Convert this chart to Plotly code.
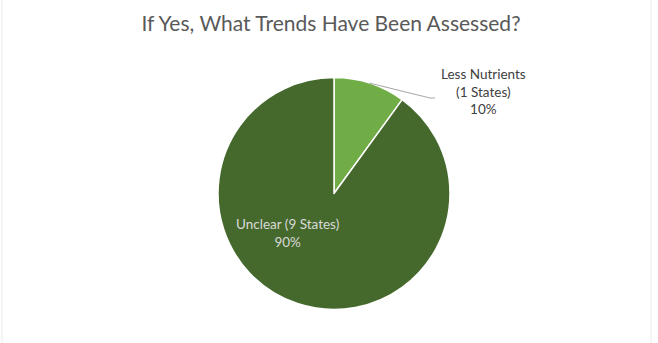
import math
import plotly.graph_objects as go

title = "If Yes, What Trends Have Been Assessed?"
categories = ["Less Nutrients", "Unclear"]
states = [1, 9]
colors = ["#70AD47", "#45692C"]

W, H = 658, 343
cx, cy, r = 334, 193.5, 116  # pixel geometry of pie

fig = go.Figure()
fig.add_trace(go.Pie(
    labels=categories,
    values=states,
    sort=False,
    direction="clockwise",
    rotation=0,
    marker=dict(colors=colors, line=dict(color="white", width=1.5)),
    textinfo="none",
    hoverinfo="label+value+percent",
    showlegend=False,
    domain=dict(x=[(cx - r) / W, (cx + r) / W], y=[(H - cy - r) / H, (H - cy + r) / H]),
))

total = sum(states)
pct = [v / total for v in states]

# label for small slice (outside, with leader line)
mid0 = pct[0] / 2 * 2 * math.pi
ex = cx + r * math.sin(mid0)
ey = cy - r * math.cos(mid0)
lx, ly = 430, 98
fig.add_shape(type="path", xref="paper", yref="paper",
              path=f"M {ex/W} {1-ey/H} L {lx/W} {1-ly/H} L {(lx+5)/W} {1-ly/H}",
              line=dict(color="#A6A6A6", width=1))
fig.add_annotation(
    x=483 / W, y=1 - 92 / H, xref="paper", yref="paper",
    xanchor="center", yanchor="middle",
    text=f"{categories[0]}<br>({states[0]} States)<br>{round(pct[0]*100)}%",
    showarrow=False, align="center",
    font=dict(family="Lato, Carlito, sans-serif", size=13.5, color="#404040"),
)
# label for big slice (inside)
fig.add_annotation(
    x=287 / W, y=1 - 233 / H, xref="paper", yref="paper",
    xanchor="center", yanchor="middle",
    text=f"{categories[1]} ({states[1]} States)<br>{round(pct[1]*100)}%",
    showarrow=False, align="center",
    font=dict(family="Lato, Carlito, sans-serif", size=13.5, color="#D9D9D9"),
)

for xp in (2, 651):
    fig.add_shape(type="line", xref="paper", yref="paper",
                  x0=xp / W, x1=xp / W, y0=0, y1=1,
                  line=dict(color="#EBEBEB", width=1))

fig.update_layout(
    width=W, height=H,
    margin=dict(l=0, r=0, t=0, b=0),
    paper_bgcolor="white", plot_bgcolor="white",
    title=dict(text=title, x=331 / W, xanchor="center", y=1 - 24 / H, yanchor="middle",
               font=dict(family="Lato, Carlito, sans-serif", size=21, color="#595959")),
)

fig.write_html("out.html")
